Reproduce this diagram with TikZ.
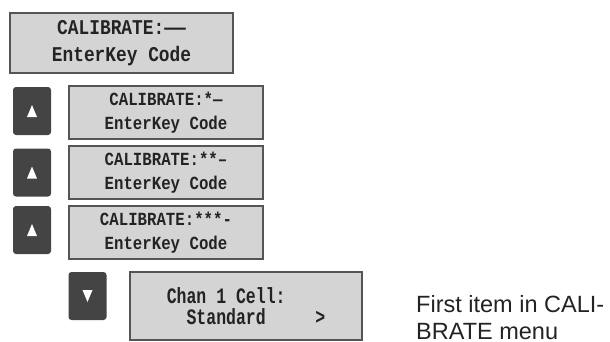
\documentclass[tikz,border=0pt]{standalone}
\usepackage{fontspec}
\setmainfont{Liberation Sans}
\newfontfamily\lcdfont{Liberation Mono}[FakeStretch=0.85]
\newfontfamily\lcdnarrow{Liberation Mono}[FakeStretch=0.75]
\usepackage{tikz}

\definecolor{lcdfill}{RGB}{212,212,212}
\definecolor{lcdedge}{RGB}{85,85,85}
\definecolor{keyfill}{RGB}{68,68,68}
\definecolor{lcdtext}{RGB}{35,35,35}

\begin{document}
\begin{tikzpicture}[x=1pt, y=-1pt,
        lcd/.style={draw=lcdedge, line width=1.5pt, fill=lcdfill, text=lcdtext, inner sep=0pt},
        lcdbig/.style={font={\lcdfont\bfseries\fontsize{21}{27}\selectfont}},
        lcdsmall/.style={font={\lcdfont\bfseries\fontsize{18.5}{24}\selectfont}},
        key/.style={fill=keyfill, rounded corners=3pt, minimum width=38pt, minimum height=48pt, inner sep=0pt}
      ]
      \useasboundingbox (0,0) rectangle (610,341);
      \node[lcd, lcdbig, align=center, minimum width=223pt, minimum height=60pt] (code0) at (121.5,43) {CALIBRATE:——\\EnterKey Code};
      \node[key] (up1) at (32,111) {};
      \node[lcd, lcdsmall, align=center, minimum width=194pt, minimum height=53pt] (code1) at (166,112.5) {CALIBRATE:*—\\EnterKey Code};
      \node[key] (up2) at (32,172.5) {};
      \node[lcd, lcdsmall, align=center, minimum width=194pt, minimum height=53pt] (code2) at (166,172.5) {CALIBRATE:**–\\EnterKey Code};
      \node[key] (up3) at (32,230) {};
      \node[lcd, lcdsmall, align=center, minimum width=194pt, minimum height=53pt] (code3) at (166,232.5) {CALIBRATE:***-\\EnterKey Code};
      \node[key] (down) at (87.5,296) {};
      \node[lcd, align=left, minimum width=232pt, minimum height=68pt, font={\lcdnarrow\bfseries\fontsize{22}{21}\selectfont}] (chan) at (246,306) {Chan 1 Cell:\\\phantom{xx}Standard\phantom{xxxxx}>};
      \foreach \k in {up1,up2,up3}
        \fill[white] ([shift={(0,-6)}]\k.center) -- ([shift={(5,6)}]\k.center) -- ([shift={(-5,6)}]\k.center) -- cycle;
      \fill[white] ([shift={(0,6)}]down.center) -- ([shift={(5,-6)}]down.center) -- ([shift={(-5,-6)}]down.center) -- cycle;
      \node[anchor=north west, inner sep=0pt, align=left, text=lcdtext, font={\fontsize{23.5}{27}\selectfont}] (note) at (416,295.5) {First item in CALI-\\BRATE menu};
    \end{tikzpicture}
\end{document}
